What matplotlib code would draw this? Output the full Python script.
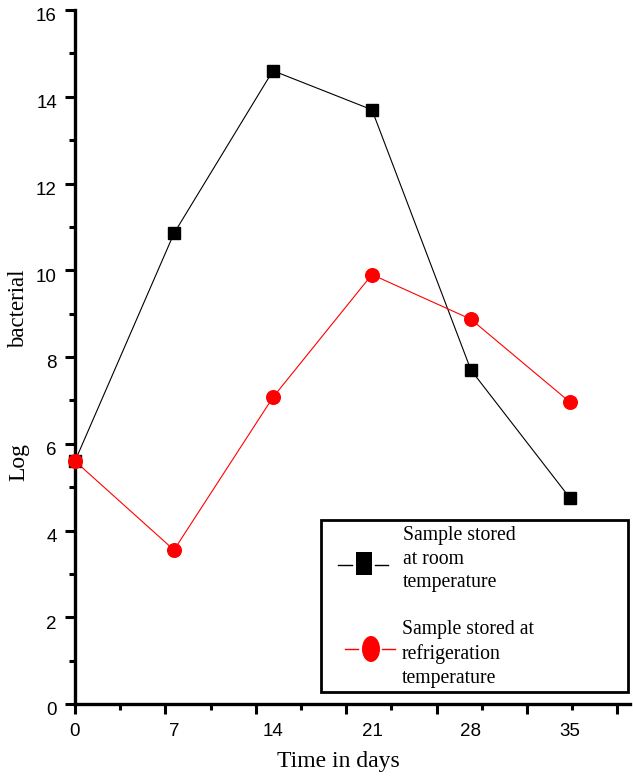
import numpy as np
import matplotlib
matplotlib.use("Agg")
import matplotlib.pyplot as plt
from matplotlib.lines import Line2D
from matplotlib.patches import Rectangle, Ellipse
from matplotlib.ticker import MultipleLocator, FixedLocator, NullFormatter

# Sampling days and log bacterial counts
days = [0, 7, 14, 21, 28, 35]
room_temp = [5.6, 10.85, 14.6, 13.7, 7.7, 4.75]
fridge_temp = [5.6, 3.55, 7.07, 9.9, 8.87, 6.96]
y_ticks = [0, 2, 4, 6, 8, 10, 12, 14, 16]
x_tick_labels = ["0", "7", "14", "21", "28", "35"]
legend_labels = ["Sample stored\nat room\ntemperature",
                 "Sample stored at\nrefrigeration\ntemperature"]

sans = "Liberation Sans"
serif = "Liberation Serif"
W, H = 633, 779

fig = plt.figure(figsize=(W / 100, H / 100), dpi=100)
ax = fig.add_axes([75 / W, 75 / H, 555 / W, 694 / H])


def fx(x):
    return x / W


def fy(y):
    return 1 - y / H


ax.plot(days, room_temp, color="black", lw=0.8, marker="s", ms=8.5,
        mec="black", mfc="black", clip_on=False, zorder=3)
ax.plot(days, fridge_temp, color="red", lw=0.8, marker="o", ms=9.8,
        mec="red", mfc="red", clip_on=False, zorder=4)

ax.set_xlim(0, 39.25)
ax.set_ylim(0, 16)

for side in ("top", "right"):
    ax.spines[side].set_visible(False)
for side in ("left", "bottom"):
    ax.spines[side].set_linewidth(2.4)

# y axis: labelled even ticks, minor ticks at odd values
ax.yaxis.set_major_locator(FixedLocator(y_ticks))
ax.yaxis.set_minor_locator(MultipleLocator(1))
ax.set_yticklabels([])
ax.tick_params(axis="y", which="major", direction="out", length=7, width=2.2)
ax.tick_params(axis="y", which="minor", direction="out", length=4, width=2.2)
for v in y_ticks:
    ax.annotate(str(v), xy=(0, v), xycoords=("axes fraction", "data"),
                xytext=(-13, -5), textcoords="offset points",
                ha="right", va="center", fontsize=13.5, family=sans)

# x axis: tick marks on their own spacing, day labels under data positions
step = 45.2 / (555 / 39.25)
ax.xaxis.set_major_locator(FixedLocator(np.arange(0, 39.3, 2 * step)))
ax.xaxis.set_minor_locator(FixedLocator(np.arange(step, 39.3, 2 * step)))
ax.xaxis.set_major_formatter(NullFormatter())
ax.tick_params(axis="x", which="major", direction="out", length=7, width=2.2)
ax.tick_params(axis="x", which="minor", direction="out", length=4, width=2.2)
for d, lab in zip(days, x_tick_labels):
    ax.annotate(lab, xy=(d, 0), xycoords=("data", "axes fraction"),
                xytext=(0, -20), textcoords="offset points",
                ha="center", va="center", fontsize=13.5, family=sans)

fig.text(fx(338), fy(761), "Time in days", ha="center", va="center",
         fontsize=17, family=serif)
fig.text(fx(19), fy(462), "Log", rotation=90, ha="center", va="center",
         fontsize=17, family=serif)
fig.text(fx(19), fy(309), "bacterial", rotation=90, ha="center",
         va="center", fontsize=16.5, family=serif)

# legend box drawn by hand
tf = fig.transFigure
fig.add_artist(Rectangle((fx(321), fy(692)), fx(628) - fx(321),
                         fy(520) - fy(692), transform=tf, fill=True,
                         facecolor="white", edgecolor="black", lw=2.0,
                         zorder=5))

# room temperature entry: short dashes either side of a tall block
for x0, x1 in ((338, 352), (375, 388)):
    fig.add_artist(Line2D([fx(x0), fx(x1)], [fy(565), fy(565)], transform=tf,
                          color="black", lw=1.0, zorder=6))
fig.add_artist(Rectangle((fx(356), fy(575)), fx(372) - fx(356),
                         fy(552) - fy(575), transform=tf, facecolor="black",
                         edgecolor="none", zorder=6))

# refrigeration entry: short dashes either side of an upright oval
for x0, x1 in ((345, 358), (382, 395)):
    fig.add_artist(Line2D([fx(x0), fx(x1)], [fy(649), fy(649)], transform=tf,
                          color="red", lw=1.0, zorder=6))
fig.add_artist(Ellipse((fx(371), fy(649)), fx(18), 26 / H, transform=tf,
                       facecolor="red", edgecolor="none", zorder=6))

fig.text(fx(403), fy(559), legend_labels[0], ha="left", va="center",
         fontsize=14.2, family=serif, linespacing=1.35, zorder=7)
fig.text(fx(402), fy(654), legend_labels[1], ha="left", va="center",
         fontsize=14.2, family=serif, linespacing=1.35, zorder=7)

fig.savefig("out.png", dpi=100)
